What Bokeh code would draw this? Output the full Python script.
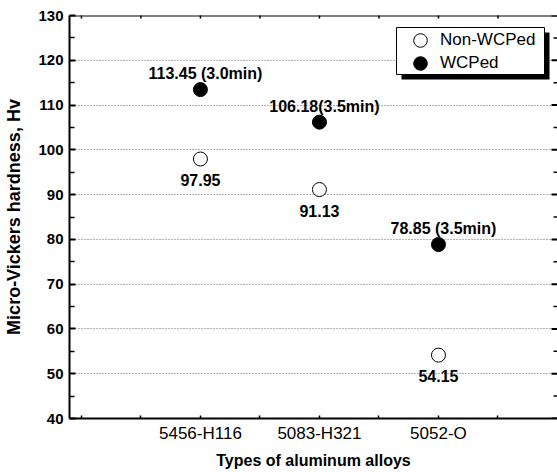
import math
from bokeh.plotting import figure
from bokeh.models import (ColumnDataSource, FixedTicker, Range1d, Span,
                          Legend, LegendItem, BoxAnnotation)
from bokeh.core.properties import value
from bokeh.embed import file_html
from bokeh.resources import INLINE

# ---- data ----
categories = ["5456-H116", "5083-H321", "5052-O"]
cat_pos = [1, 2, 3]
non_wcped = [97.95, 91.13, 54.15]
wcped = [113.45, 106.18, 78.85]
non_labels = ["97.95", "91.13", "54.15"]
wcped_labels = ["113.45 (3.0min)", "106.18(3.5min)", "78.85 (3.5min)"]
y_ticks = [40, 50, 60, 70, 80, 90, 100, 110, 120, 130]
y_minor = [45, 55, 65, 75, 85, 95, 105, 115, 125]
x_ticks = [0, 0.5, 1, 1.5, 2, 2.5, 3, 3.5]

X_START, X_END = -0.1, 4.0
Y_START, Y_END = 40, 130
FONT = "Liberation Sans"
W, H = 557, 472
TOP, BOTTOM, LEFT = 15, 54, 69
FRAME_H = H - TOP - BOTTOM

p = figure(width=W, height=H, x_range=Range1d(X_START, X_END), y_range=Range1d(Y_START, Y_END),
           output_backend="svg", toolbar_location=None,
           min_border_left=LEFT, min_border_right=0, min_border_top=TOP, min_border_bottom=BOTTOM)
p.outline_line_color = None
p.background_fill_color = "white"
p.border_fill_color = "white"

# grid
p.xgrid.visible = False
p.ygrid.ticker = FixedTicker(ticks=y_ticks)
p.ygrid.grid_line_color = "#666666"
p.ygrid.grid_line_dash = "1 2"
p.ygrid.grid_line_width = 1

# left axis
ya = p.yaxis[0]
ya.ticker = FixedTicker(ticks=y_ticks, minor_ticks=y_minor)
ya.axis_line_color = "black"
ya.axis_line_width = 2
ya.major_tick_in = 6
ya.major_tick_out = 0
ya.minor_tick_in = 5
ya.minor_tick_out = 0
ya.major_tick_line_width = 2
ya.minor_tick_line_width = 1.5
ya.major_label_standoff = 6
ya.major_label_text_font = FONT
ya.major_label_text_font_style = "bold"
ya.major_label_text_font_size = "15px"
ya.major_label_text_color = "black"
ya.axis_label = "Micro-Vickers hardness, Hv"
ya.axis_label_text_font = FONT
ya.axis_label_text_font_style = "bold"
ya.axis_label_text_font_size = "18px"
ya.axis_label_text_color = "black"
ya.axis_label_standoff = 11

# bottom axis
xa = p.xaxis[0]
xa.ticker = FixedTicker(ticks=x_ticks)
overrides = {t: "" for t in x_ticks}
for pos, name in zip(cat_pos, categories):
    overrides[pos] = name
xa.major_label_overrides = overrides
xa.axis_line_color = "black"
xa.axis_line_width = 2
xa.major_tick_in = 3
xa.major_tick_out = 0
xa.minor_tick_in = 0
xa.minor_tick_out = 0
xa.major_tick_line_width = 1.5
xa.major_label_standoff = 5
xa.major_label_text_font = FONT
xa.major_label_text_font_size = "17px"
xa.major_label_text_color = "black"
xa.axis_label = "Types of aluminum alloys"
xa.axis_label_text_font = FONT
xa.axis_label_text_font_style = "bold"
xa.axis_label_text_font_size = "16px"
xa.axis_label_text_color = "black"
xa.axis_label_standoff = 6

# top frame line
p.add_layout(Span(location=Y_END, dimension="width", line_color="black", line_width=2))

# mirrored ticks on the top and right frame edges (clipped half-dashes)
p.scatter(x=x_ticks, y=[Y_END] * len(x_ticks), marker="dash", angle=math.pi / 2,
          size=6, line_color="black", line_width=1.5)
p.scatter(x=[X_END] * len(y_ticks), y=y_ticks, marker="dash",
          size=12, line_color="black", line_width=2)
p.scatter(x=[X_END] * len(y_minor), y=y_minor, marker="dash",
          size=8, line_color="black", line_width=1.5)

# data
src_non = ColumnDataSource(dict(x=cat_pos, y=non_wcped, label=non_labels))
src_w = ColumnDataSource(dict(x=cat_pos, y=wcped, label=wcped_labels))

r_non = p.scatter("x", "y", source=src_non, marker="circle", size=14,
                  fill_color="white", line_color="black", line_width=1)
r_w = p.scatter("x", "y", source=src_w, marker="circle", size=14,
                fill_color="black", line_color="black", line_width=1)

p.text("x", "y", text="label", source=src_w, text_font=value(FONT), text_font_style="bold",
       text_font_size="16px", text_align="center", text_baseline="middle",
       x_offset=5, y_offset=-16, text_color="black")
p.text("x", "y", text="label", source=src_non, text_font=value(FONT), text_font_style="bold",
       text_font_size="16px", text_align="center", text_baseline="middle",
       x_offset=0, y_offset=21, text_color="black")

# legend box with shadow
shadow = BoxAnnotation(left=401, right=549, top=32, bottom=79,
                       left_units="canvas", right_units="canvas",
                       top_units="canvas", bottom_units="canvas",
                       fill_color="black", fill_alpha=1, line_color=None)
box = BoxAnnotation(left=396, right=544, top=27, bottom=74,
                    left_units="canvas", right_units="canvas",
                    top_units="canvas", bottom_units="canvas",
                    fill_color="white", fill_alpha=1, line_color="black", line_width=1, line_alpha=1)
p.add_layout(shadow)
p.add_layout(box)

legend_style = dict(margin=0, padding=0, spacing=0,
                    glyph_width=34, glyph_height=34, label_height=23, label_standoff=3,
                    label_text_font=FONT, label_text_font_size="17px", label_text_color="black",
                    background_fill_alpha=0, border_line_alpha=0)
legend1 = Legend(items=[LegendItem(label="Non-WCPed", renderers=[r_non])],
                 location=(334, FRAME_H - 41.5), **legend_style)
legend2 = Legend(items=[LegendItem(label="WCPed", renderers=[r_w])],
                 location=(334, FRAME_H - 64.5), **legend_style)
p.add_layout(legend1)
p.add_layout(legend2)

open("out.html", "w").write(file_html(p, INLINE))
